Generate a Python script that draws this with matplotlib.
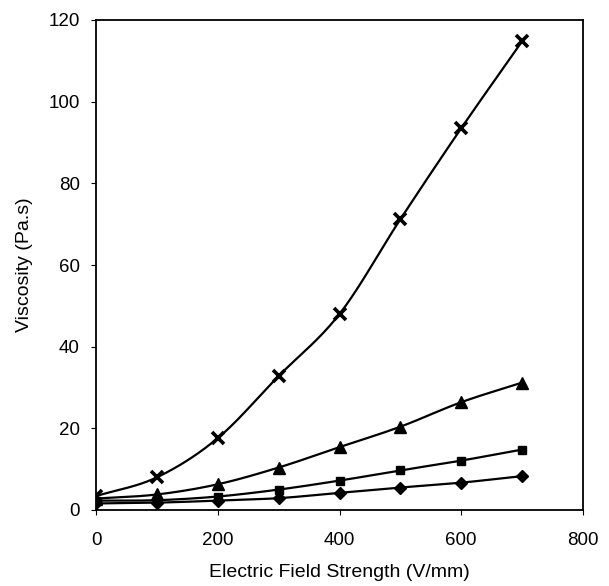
import numpy as np
import matplotlib
matplotlib.use("Agg")
import matplotlib.pyplot as plt

plt.rcParams['font.family'] = ['Liberation Sans', 'DejaVu Sans']

field = [0, 100, 200, 300, 400, 500, 600, 700]
visc_cross = [3.4, 8.0, 17.6, 32.8, 48.0, 71.2, 93.5, 114.8]
visc_triangle = [2.8, 3.8, 6.3, 10.4, 15.4, 20.4, 26.4, 31.2]
visc_square = [2.3, 2.4, 3.3, 5.0, 7.2, 9.7, 12.1, 14.8]
visc_diamond = [1.6, 1.8, 2.3, 2.9, 4.2, 5.5, 6.7, 8.3]

xticks = [0, 200, 400, 600, 800]
yticks = [0, 20, 40, 60, 80, 100, 120]


def smooth(x, y, n=20):
    """ catmull-rom curve through the points, like excel smoothed lines """
    x = np.asarray(x, float)
    y = np.asarray(y, float)
    px = np.concatenate([[2 * x[0] - x[1]], x, [2 * x[-1] - x[-2]]])
    py = np.concatenate([[2 * y[0] - y[1]], y, [2 * y[-1] - y[-2]]])
    t = np.linspace(0, 1, n)
    xs, ys = [], []
    for i in range(1, len(px) - 2):
        for p, out in ((px, xs), (py, ys)):
            p0, p1, p2, p3 = p[i - 1], p[i], p[i + 1], p[i + 2]
            out.extend(0.5 * (2 * p1 + (-p0 + p2) * t
                              + (2 * p0 - 5 * p1 + 4 * p2 - p3) * t ** 2
                              + (-p0 + 3 * p1 - 3 * p2 + p3) * t ** 3))
    return xs, ys


fig = plt.figure(figsize=(6.09, 5.86), dpi=100)
# axes box in pixels: 96..583 wide, 20..510 tall
ax = fig.add_axes([96 / 609, 1 - 510 / 586, 487 / 609, 490 / 586])

series = [(visc_diamond, 'D', 6.5, 1), (visc_square, 's', 6, 1),
          (visc_triangle, '^', 8.5, 1), (visc_cross, 'x', 8, 2.6)]
for ys, m, ms, mew in series:
    sx, sy = smooth(field, ys)
    ax.plot(sx, sy, color='black', lw=1.6)
    ax.plot(field, ys, linestyle='none', marker=m, ms=ms, color='black', mew=mew)

ax.set_xlim(0, 800)
ax.set_ylim(0, 120)
ax.set_xticks(xticks)
ax.set_yticks(yticks)
ax.tick_params(direction='out', length=3.6, width=0.8, labelsize=13.5)
ax.tick_params(axis='x', pad=12.5)
ax.tick_params(axis='y', pad=8)
for s in ax.spines.values():
    s.set_linewidth(1.3)

ax.set_xlabel("Electric Field Strength (V/mm)", fontsize=14, va='baseline')
ax.xaxis.set_label_coords(0.5, (510 - 577) / 490)
ax.set_ylabel("Viscosity (Pa.s)", fontsize=14)
ax.yaxis.set_label_coords((33 - 96) / 487, 0.5)

fig.savefig("out.png", dpi=100)
